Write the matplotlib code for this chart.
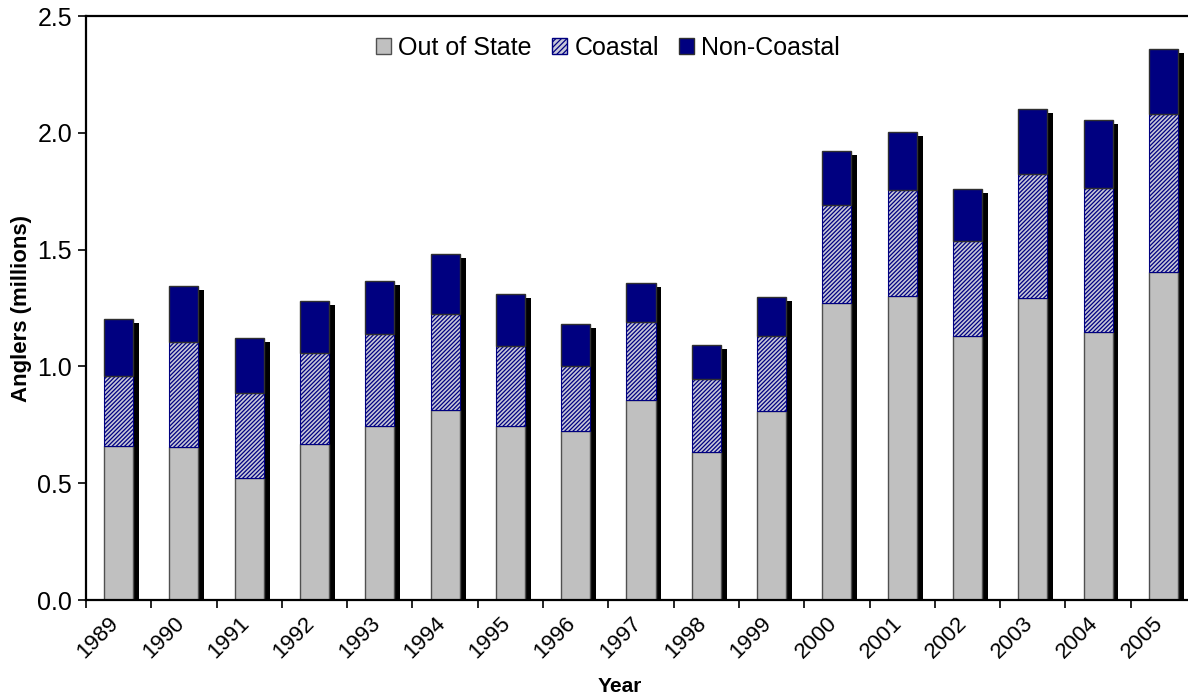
import matplotlib
matplotlib.use("Agg")
import matplotlib.pyplot as plt
import numpy as np
from matplotlib.patches import Patch

years = ["1989", "1990", "1991", "1992", "1993", "1994", "1995", "1996", "1997",
         "1998", "1999", "2000", "2001", "2002", "2003", "2004", "2005"]
out_of_state = [0.658, 0.654, 0.522, 0.666, 0.745, 0.815, 0.745, 0.725, 0.856,
                0.635, 0.809, 1.273, 1.300, 1.129, 1.291, 1.149, 1.403]
coastal_top = [0.959, 1.106, 0.888, 1.057, 1.140, 1.223, 1.087, 1.000, 1.190,
               0.947, 1.130, 1.692, 1.754, 1.538, 1.824, 1.765, 2.079]
total = [1.203, 1.343, 1.120, 1.281, 1.364, 1.483, 1.311, 1.183, 1.358,
         1.093, 1.297, 1.922, 2.005, 1.761, 2.103, 2.053, 2.359]

coastal = [c - o for c, o in zip(coastal_top, out_of_state)]
non_coastal = [t - c for t, c in zip(total, coastal_top)]

plt.rcParams['font.family'] = ['Liberation Sans', 'DejaVu Sans']
plt.rcParams['hatch.linewidth'] = 0.9

fig = plt.figure(figsize=(11.88, 6.98), dpi=100)
ax = fig.add_axes([86 / 1188, 98 / 698, 1110 / 1188, 584 / 698])

x = np.arange(len(years))
w = 0.445
dx, dy = 0.09, 0.017

ax.bar(x + dx, total, w, bottom=-dy, color='black', zorder=1)
ax.bar(x, out_of_state, w, color='#c0c0c0', edgecolor='#505050', linewidth=1.0, zorder=2)
ax.bar(x, coastal, w, bottom=out_of_state, color='#c8c8d8', edgecolor='#000080',
       hatch='////////', linewidth=0.8, zorder=2)
ax.bar(x, non_coastal, w, bottom=coastal_top, color='#000080', edgecolor='#303030',
       linewidth=1.0, zorder=2)

ax.set_xlim(-0.5, len(years) - 0.5)
ax.set_ylim(0, 2.5)
ax.set_yticks([0, 0.5, 1.0, 1.5, 2.0, 2.5])
ax.set_yticklabels(["0.0", "0.5", "1.0", "1.5", "2.0", "2.5"], fontsize=18)
# label anchors sit slightly left of the category centres (invisible major ticks)
ax.set_xticks(x - 0.16)
ax.set_xticklabels(years, rotation=45, ha='right', va='top', rotation_mode='anchor', fontsize=16)
ax.set_xticks(np.arange(len(years) + 1) - 0.5, minor=True)
ax.tick_params(axis='x', which='major', length=0, pad=9)
ax.tick_params(axis='x', which='minor', length=6, width=1.2, direction='out')
ax.tick_params(axis='y', length=6, width=1.2, direction='out', pad=4)

for s in ['left', 'bottom', 'top']:
    ax.spines[s].set_linewidth(1.6)
ax.spines['right'].set_visible(False)

ax.set_ylabel("Anglers (millions)", fontsize=16, fontweight='bold', labelpad=4)
ax.set_xlabel("Year", fontsize=15, fontweight='bold')
ax.xaxis.set_label_coords((620 - 86) / 1110, -0.132)

handles = [Patch(facecolor='#c0c0c0', edgecolor='#505050', label='Out of State'),
           Patch(facecolor='#c8c8d8', edgecolor='#000080', hatch='//////', label='Coastal'),
           Patch(facecolor='#000080', edgecolor='#303030', label='Non-Coastal')]
ax.legend(handles=handles, loc='center', bbox_to_anchor=((608 - 86) / 1110, (600 - 48) / 584),
          ncol=3, frameon=False, fontsize=18, handlelength=0.6, handleheight=0.6,
          handletextpad=0.3, columnspacing=0.8)

fig.savefig("out.png", dpi=100)
